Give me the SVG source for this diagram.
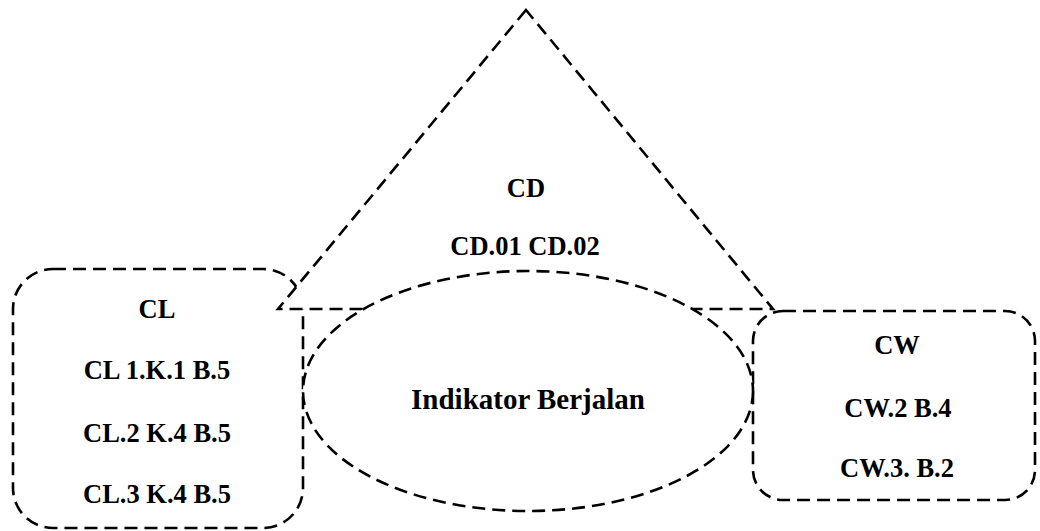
<svg xmlns="http://www.w3.org/2000/svg" width="1040" height="531" viewBox="0 0 1040 531">
  <style>
    .shape { fill: #ffffff; stroke: #000000; stroke-width: 2.6; stroke-dasharray: 13 7; }
    .lbl { font-family: "Liberation Serif", "Times New Roman", serif; font-weight: bold; font-size: 26.5px; fill: #000000; text-anchor: middle; }
    .big { font-size: 29px; }
  </style>
  <rect width="1040" height="531" fill="#ffffff"/>

  <!-- CL set -->
  <g id="node-cl">
    <rect class="shape" x="13" y="269" width="290" height="259" rx="40" ry="40"/>
    <text class="lbl" x="157" y="318">CL</text>
    <text class="lbl" x="157" y="379">CL 1.K.1 B.5</text>
    <text class="lbl" x="157" y="442">CL.2 K.4 B.5</text>
    <text class="lbl" x="157" y="503">CL.3 K.4 B.5</text>
  </g>

  <!-- CW set -->
  <g id="node-cw">
    <rect class="shape" x="753" y="311" width="282" height="189" rx="30" ry="30"/>
    <text class="lbl" x="897" y="354">CW</text>
    <text class="lbl" x="898" y="417">CW.2 B.4</text>
    <text class="lbl" x="897" y="477">CW.3. B.2</text>
  </g>

  <!-- CD set -->
  <g id="node-cd">
    <polygon class="shape" points="526,10 278,309 773,309"/>
    <text class="lbl" x="526" y="197">CD</text>
    <text class="lbl" x="525" y="255">CD.01 CD.02</text>
  </g>

  <!-- shared indicator -->
  <g id="node-indikator">
    <ellipse class="shape" cx="528" cy="391" rx="225" ry="120"/>
    <text class="lbl big" x="528" y="409">Indikator Berjalan</text>
  </g>

  <g id="connectors"/>
</svg>
